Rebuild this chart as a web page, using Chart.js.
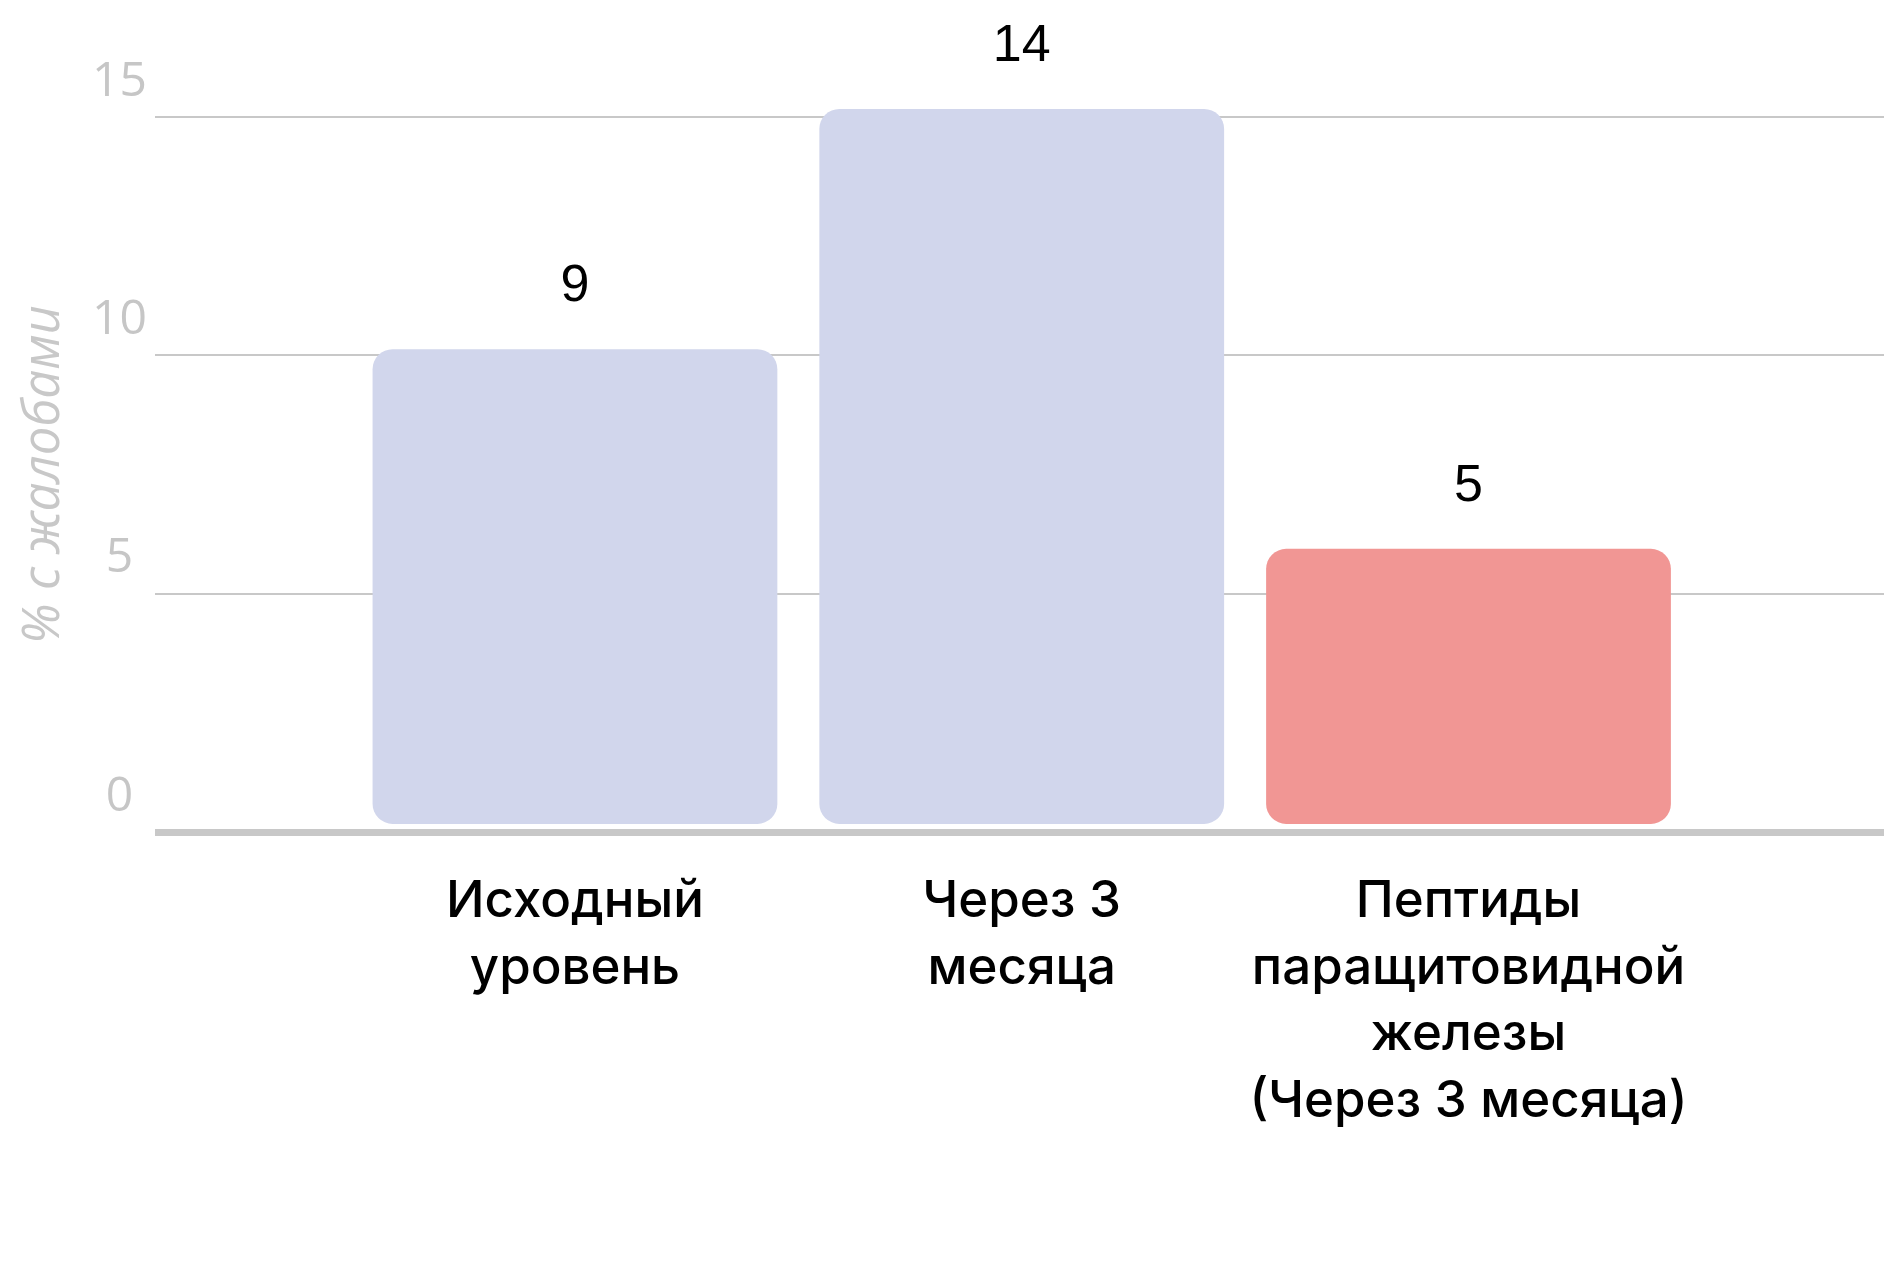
<!DOCTYPE html>
<html>
<head>
<meta charset="utf-8">
<script src="https://cdn.jsdelivr.net/npm/chart.js@4/dist/chart.umd.min.js"></script>
<style>
  html, body { margin: 0; padding: 0; background: #ffffff; }
  #wrap { width: 1884px; height: 1263px; position: relative; }
</style>
</head>
<body>
<div id="wrap"><canvas id="c"></canvas></div>
<script>
// ---- data ----
const categories = [
  ['Исходный', 'уровень'],
  ['Через 3', 'месяца'],
  ['Пептиды', 'паращитовидной', 'железы', '(Через 3 месяца)']
];
const barValues = [10.13, 15.17, 5.94];      // bar heights as drawn
const valueLabels = ['9', '14', '5'];          // numbers printed above bars
const yTicks = [0, 5, 10, 15];
const yTitle = '% с жалобами';
const barColors = ['#d1d6ec', '#d1d6ec', '#f19694'];

const valueLabelPlugin = {
  id: 'valueLabels',
  afterDatasetsDraw(chart) {
    const ctx = chart.ctx;
    const meta = chart.getDatasetMeta(0);
    ctx.save();
    ctx.fillStyle = '#000000';
    ctx.font = '400 52px "Liberation Sans", Arial, sans-serif';
    ctx.textAlign = 'center';
    ctx.textBaseline = 'middle';
    meta.data.forEach((bar, i) => {
      ctx.fillText(valueLabels[i], bar.x, bar.y - 62);
    });
    ctx.restore();
  }
};

new Chart(document.getElementById('c'), {
  type: 'bar',
  data: {
    datasets: [{
      data: barValues.map((v, i) => ({ x: i, y: v })),
      backgroundColor: barColors,
      borderWidth: 0,
      borderRadius: 20,
      borderSkipped: false,
      base: 0.17,
      clip: false,
      barPercentage: 0.906,
      categoryPercentage: 1.0
    }]
  },
  plugins: [valueLabelPlugin],
  options: {
    responsive: true,
    maintainAspectRatio: false,
    animation: false,
    events: [],
    layout: { padding: { top: 117, right: 0, bottom: 0, left: 0 } },
    plugins: { legend: { display: false }, tooltip: { enabled: false } },
    scales: {
      x: {
        type: 'linear',
        offset: false,
        min: -0.94,
        max: 2.93,
        afterBuildTicks: (axis) => { axis.ticks = categories.map((_, i) => ({ value: i })); },
        afterFit: (scale) => { scale.height = 1263 - 832; },
        grid: { display: false, offset: false },
        border: { display: false },
        ticks: {
          autoSkip: false,
          maxRotation: 0,
          padding: 28,
          color: '#000000',
          font: { family: 'Inter, "Noto Sans", sans-serif', size: 51, weight: '500', lineHeight: 1.31 },
          callback: (value) => categories[value] || ''
        }
      },
      y: {
        min: 0,
        max: 15,
        afterBuildTicks: (axis) => { axis.ticks = yTicks.map(v => ({ value: v })); },
        afterFit: (scale) => { scale.width = 155; },
        border: { display: false },
        grid: {
          color: '#c8c8c8',
          drawTicks: false,
          lineWidth: (ctx) => (ctx.tick && ctx.tick.value === 0 ? 7 : 2)
        },
        ticks: {
          padding: 8,
          crossAlign: 'center',
          labelOffset: -35,
          color: '#c6c6c6',
          font: { family: '"Open Sans", sans-serif', size: 48, weight: '400' }
        },
        title: {
          display: true,
          text: yTitle,
          color: '#c8c8c8',
          padding: { top: 14, bottom: 0 },
          font: { family: '"Open Sans", sans-serif', size: 51, style: 'italic', weight: '400', lineHeight: 1.2 }
        }
      }
    }
  }
});
</script>
</body>
</html>
